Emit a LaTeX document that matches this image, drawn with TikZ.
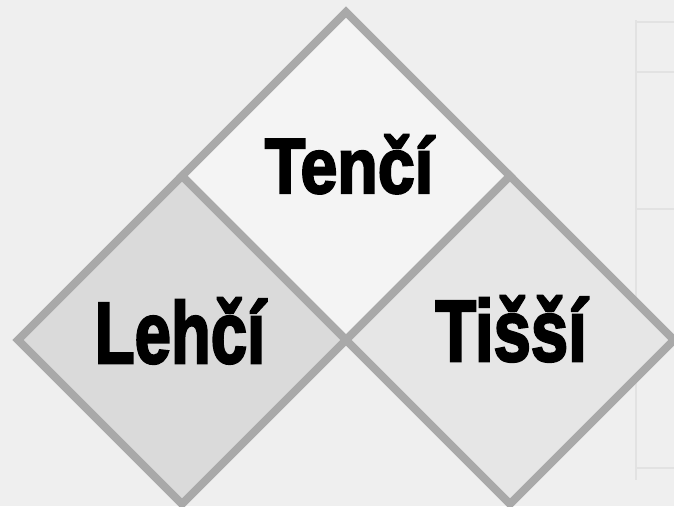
\documentclass[tikz,border=0pt]{standalone}
\usepackage{fontspec}
\setmainfont{Liberation Sans}
\newfontfamily\lblfont{Liberation Sans}[BoldFeatures={FakeBold=3}]
\usetikzlibrary{shapes.geometric}
\definecolor{bggray}{HTML}{EFEFEF}
\definecolor{topfill}{HTML}{F4F4F4}
\definecolor{leftfill}{HTML}{DADADA}
\definecolor{rightfill}{HTML}{E6E6E6}
\definecolor{bordergray}{HTML}{A9A9A9}
\definecolor{faintline}{HTML}{E2E2E2}
\tikzset{
  dia/.style={diamond, aspect=1, inner sep=0pt, outer sep=0pt,
    minimum width=328pt, minimum height=328pt,
    draw=bordergray, line width=8pt, line join=miter},
  lbl/.style={anchor=base, inner sep=0pt, text=black},
}
\begin{document}
\begin{tikzpicture}[x=1pt,y=-1pt]
\useasboundingbox (0,0) rectangle (674,506);
\fill[bggray] (0,0) rectangle (674,506);
% faint scanned table at the right edge
\draw[faintline, line width=1.5pt] (636,20) -- (636,480);
\foreach \yy in {22,72,209,468} \draw[faintline, line width=1.5pt] (636,\yy) -- (674,\yy);
% diamonds
\node[dia, fill=topfill] (top) at (346,176) {};
\node[dia, fill=leftfill] (left) at (182,340) {};
\node[dia, fill=rightfill] (right) at (510,340) {};
% labels
\node[lbl, font=\lblfont\bfseries\fontsize{78}{78}\selectfont] (tTop) at (349,193) {\scalebox{0.85}[1]{Tenčí}};
\node[lbl, font=\lblfont\bfseries\fontsize{87}{87}\selectfont] (tLeft) at (180,363) {\scalebox{0.75}[1]{Lehčí}};
\node[lbl, font=\lblfont\bfseries\fontsize{87}{87}\selectfont] (tRight) at (511,361) {\scalebox{0.77}[1]{Tišší}};
\end{tikzpicture}
\end{document}
